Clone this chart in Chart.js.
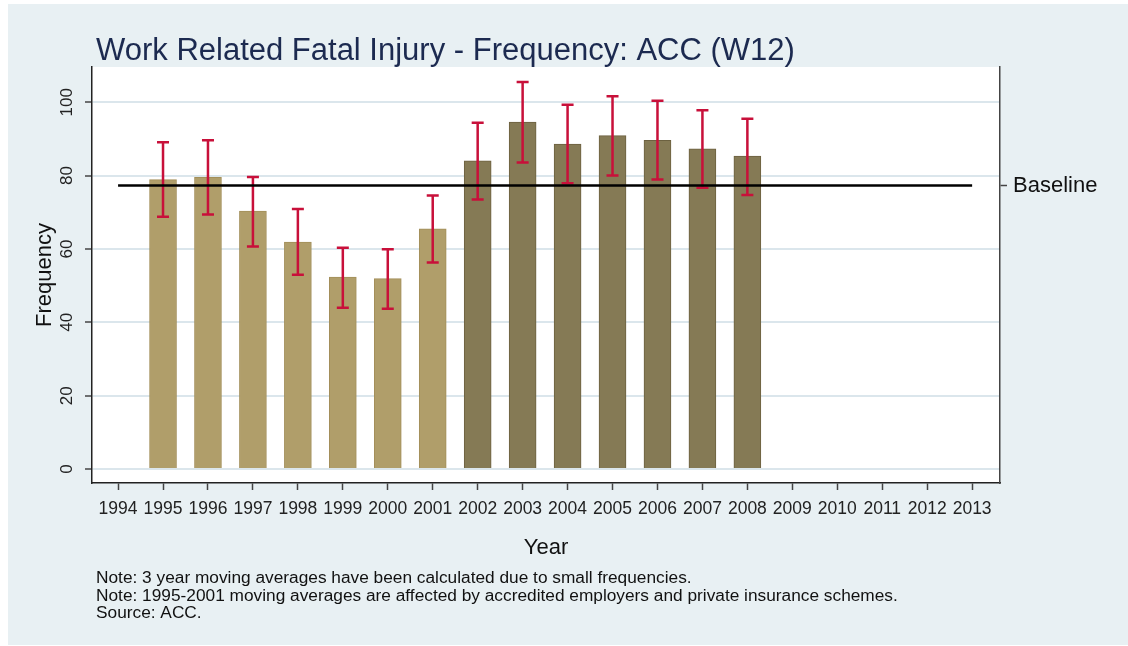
<!DOCTYPE html>
<html>
<head>
<meta charset="utf-8">
<title>Work Related Fatal Injury - Frequency</title>
<script src="https://cdn.jsdelivr.net/npm/chart.js@4"></script>
<style>
  body { margin: 0; background: #ffffff; }
</style>
</head>
<body>
<canvas id="myChart" width="1128" height="646"></canvas>
<script>
// data
var years = [1995, 1996, 1997, 1998, 1999, 2000, 2001, 2002, 2003, 2004, 2005, 2006, 2007, 2008];
var frequency = [78.9, 79.5, 70.3, 61.9, 52.3, 51.9, 65.5, 84.0, 94.6, 88.6, 90.9, 89.6, 87.3, 85.3];
var lowerCI = [68.8, 69.4, 60.7, 53.0, 44.0, 43.7, 56.3, 73.5, 83.6, 77.9, 80.0, 78.9, 76.7, 74.7];
var upperCI = [89.1, 89.6, 79.6, 70.9, 60.3, 59.9, 74.6, 94.4, 105.5, 99.3, 101.6, 100.4, 97.8, 95.5];
var baseline = 77.3;
var baselineYears = [1994, 2013];
var yearTicks = [1994, 1995, 1996, 1997, 1998, 1999, 2000, 2001, 2002, 2003, 2004, 2005, 2006, 2007, 2008, 2009, 2010, 2011, 2012, 2013];
var freqTicks = [0, 20, 40, 60, 80, 100];
var lastOldYear = 2001; // 1995-2001 drawn in the lighter colour
var chartTitle = 'Work Related Fatal Injury - Frequency: ACC (W12)';
var notes = [
    'Note: 3 year moving averages have been calculated due to small frequencies.',
    'Note: 1995-2001 moving averages are affected by accredited employers and private insurance schemes.',
    'Source: ACC.'
];

var FONT = '"Liberation Sans", Arial, sans-serif';
var yMin = -3.8, yMax = 109.6;

var barFill = years.map(function (y) { return y <= lastOldYear ? '#b09e6a' : '#857a55'; });
var barLine = years.map(function (y) { return y <= lastOldYear ? '#a38f5a' : '#6c6140'; });

// background panel, title and notes
var decor = {
    id: 'decor',
    beforeDraw: function (chart) {
        var c = chart.ctx, a = chart.chartArea;
        c.save();
        c.fillStyle = '#ffffff';
        c.fillRect(0, 0, chart.width, chart.height);
        c.fillStyle = '#e8f0f3';
        c.fillRect(8, 4, chart.width - 8, chart.height - 5);
        c.fillStyle = '#ffffff';
        c.fillRect(a.left, a.top, a.right - a.left, a.bottom - a.top);
        c.restore();
    },
    afterDraw: function (chart) {
        var c = chart.ctx;
        c.save();
        c.textAlign = 'left';
        c.textBaseline = 'alphabetic';
        c.fillStyle = '#1c2a50';
        c.font = '31px ' + FONT;
        c.fillText(chartTitle, 96, 60);
        c.fillStyle = '#111111';
        c.font = '17.3px ' + FONT;
        notes.forEach(function (t, i) {
            c.fillText(t, 96, 583 + i * 17.5);
        });
        c.restore();
    }
};

// confidence interval whiskers on top of the bars
var whiskers = {
    id: 'whiskers',
    afterDatasetDraw: function (chart, args) {
        if (args.index !== 1) return;
        var c = chart.ctx, xs = chart.scales.x, ys = chart.scales.y;
        c.save();
        c.strokeStyle = '#c8103a';
        c.lineWidth = 2.5;
        years.forEach(function (yr, i) {
            var x = xs.getPixelForValue(yr);
            var top = ys.getPixelForValue(upperCI[i]);
            var bot = ys.getPixelForValue(lowerCI[i]);
            c.beginPath();
            c.moveTo(x, top); c.lineTo(x, bot);
            c.moveTo(x - 6, top); c.lineTo(x + 6, top);
            c.moveTo(x - 6, bot); c.lineTo(x + 6, bot);
            c.stroke();
        });
        c.restore();
    }
};

var ctx = document.getElementById('myChart');
var chart = new Chart(ctx, {
    type: 'bar',
    data: {
        datasets: [{
            type: 'line',
            label: 'Baseline',
            data: baselineYears.map(function (y) { return { x: y, y: baseline }; }),
            borderColor: '#000000',
            borderWidth: 2.5,
            pointRadius: 0,
            order: 1
        }, {
            type: 'bar',
            label: 'Frequency',
            data: years.map(function (y, i) { return { x: y, y: frequency[i] }; }),
            backgroundColor: barFill,
            borderColor: barLine,
            borderWidth: 1,
            barThickness: 27,
            order: 2
        }]
    },
    options: {
        responsive: false,
        devicePixelRatio: 1,
        animation: false,
        layout: { padding: { top: 67, left: 0, right: 0, bottom: 0 } },
        plugins: {
            legend: { display: false },
            title: { display: false },
            tooltip: { enabled: false }
        },
        scales: {
            x: {
                type: 'linear',
                min: 1993.42,
                max: 2013.62,
                offset: false,
                afterBuildTicks: function (s) { s.ticks = yearTicks.map(function (v) { return { value: v }; }); },
                afterFit: function (s) { s.height = 163; },
                ticks: {
                    color: '#222222',
                    font: { family: FONT, size: 17.5 },
                    padding: 9,
                    maxRotation: 0,
                    autoSkip: false,
                    callback: function (v) { return String(v); }
                },
                grid: { offset: false, drawOnChartArea: false, drawTicks: true, tickLength: 7, tickColor: '#444444', tickWidth: 1.5 },
                border: { display: true, color: '#222222', width: 1.5 },
                title: {
                    display: true,
                    text: 'Year',
                    color: '#111111',
                    font: { family: FONT, size: 22 },
                    padding: { top: 0, bottom: 85 }
                }
            },
            y: {
                position: 'left',
                min: yMin,
                max: yMax,
                afterBuildTicks: function (s) { s.ticks = freqTicks.map(function (v) { return { value: v }; }); },
                afterFit: function (s) { s.width = 92; },
                ticks: {
                    color: '#222222',
                    font: { family: FONT, size: 17 },
                    minRotation: 90,
                    maxRotation: 90,
                    crossAlign: 'center',
                    padding: 4
                },
                grid: { color: '#dbe6ec', lineWidth: 2, tickLength: 7, tickColor: '#444444', tickWidth: 1.5 },
                border: { display: true, color: '#222222', width: 1.5 },
                title: {
                    display: true,
                    text: 'Frequency',
                    color: '#111111',
                    font: { family: FONT, size: 22 },
                    padding: { top: 32, bottom: 0 }
                }
            },
            y2: {
                position: 'right',
                min: yMin,
                max: yMax,
                afterBuildTicks: function (s) { s.ticks = [{ value: baseline }]; },
                afterFit: function (s) { s.width = 128; },
                ticks: {
                    color: '#111111',
                    font: { family: FONT, size: 22 },
                    padding: 6,
                    callback: function () { return 'Baseline'; }
                },
                grid: { drawOnChartArea: false, tickLength: 7, tickColor: '#444444', tickWidth: 1.5 },
                border: { display: true, color: '#444444', width: 1.5 }
            }
        }
    },
    plugins: [decor, whiskers]
});
</script>
</body>
</html>
